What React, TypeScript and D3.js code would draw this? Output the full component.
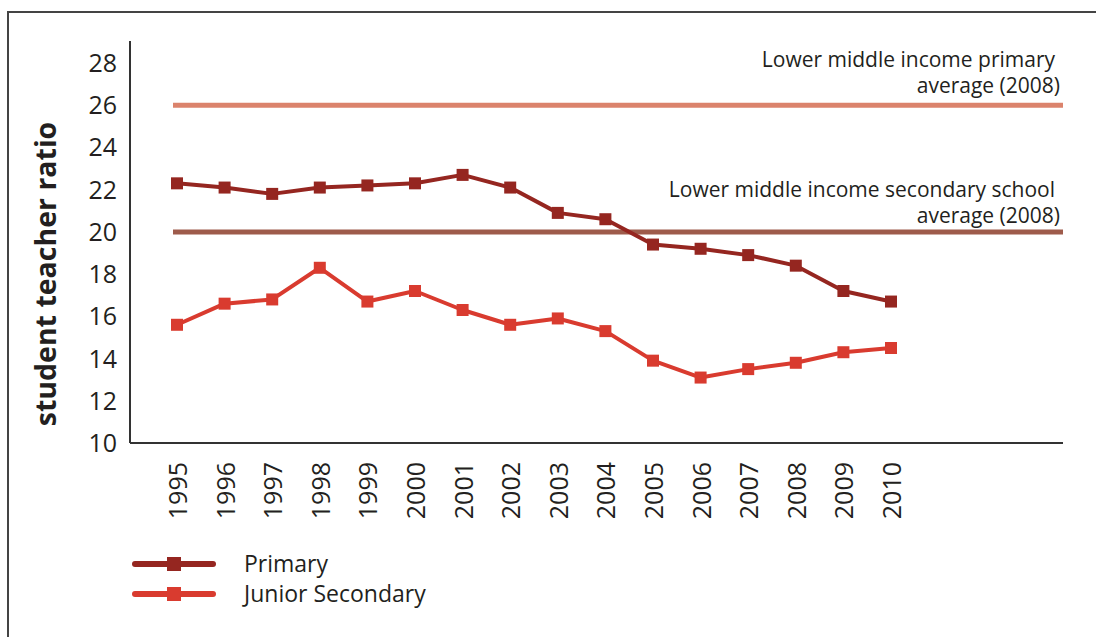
import React from 'react';
import * as d3 from 'd3';

const years = [1995, 1996, 1997, 1998, 1999, 2000, 2001, 2002, 2003, 2004, 2005, 2006, 2007, 2008, 2009, 2010];
const primary = [22.3, 22.1, 21.8, 22.1, 22.2, 22.3, 22.7, 22.1, 20.9, 20.6, 19.4, 19.2, 18.9, 18.4, 17.2, 16.7];
const juniorSecondary = [15.6, 16.6, 16.8, 18.3, 16.7, 17.2, 16.3, 15.6, 15.9, 15.3, 13.9, 13.1, 13.5, 13.8, 14.3, 14.5];
const yTicks = [10, 12, 14, 16, 18, 20, 22, 24, 26, 28];

const primaryAverage = 26;
const secondaryAverage = 20;

const W = 1096;
const H = 637;
const FONT = "'Open Sans', 'DejaVu Sans', sans-serif";

const PRIMARY_COLOR = '#952620';
const JUNIOR_COLOR = '#d93b2f';
const PRIMARY_AVG_COLOR = '#db836c';
const SECONDARY_AVG_COLOR = '#9e5b4b';
const TEXT_COLOR = '#231f20';

const App: React.FC = () => {
  // plot area
  const left = 130;
  const right = 1063;
  const top = 41;
  const bottom = 443;

  const x = d3.scaleLinear().domain([1995, 2010]).range([177, 891]);
  const y = d3.scaleLinear().domain([10, 28]).range([bottom, 63]);

  const line = d3.line<number>()
    .x((_, i) => x(years[i]))
    .y(d => y(d));

  const series = [
    { name: 'Primary', values: primary, color: PRIMARY_COLOR },
    { name: 'Junior Secondary', values: juniorSecondary, color: JUNIOR_COLOR },
  ];

  const avgStart = x(1995) - 4;

  return (
    <svg width={W} height={H} style={{ position: 'absolute', left: 0, top: 0, background: '#fff' }} fontFamily={FONT}>
      {/* frame */}
      <rect x={8} y={12} width={W + 20} height={H + 20} fill="none" stroke="#444" strokeWidth={2} />

      {/* axes */}
      <line x1={left} x2={left} y1={top} y2={bottom} stroke="#333" strokeWidth={2} />
      <line x1={left} x2={right} y1={bottom} y2={bottom} stroke="#333" strokeWidth={2} />

      {yTicks.map(t => (
        <text key={t} x={117} y={y(t)} dy="0.36em" textAnchor="end" fontSize={25} fill={TEXT_COLOR}>{t}</text>
      ))}

      {years.map(yr => (
        <text key={yr} transform={`translate(${x(yr) + 1}, 462) rotate(-90)`} dy="0.36em" textAnchor="end" fontSize={25} fill={TEXT_COLOR}>{yr}</text>
      ))}

      <text transform={`translate(56, 274) rotate(-90)`} textAnchor="middle" fontSize={28.5} fontWeight="bold" fill={TEXT_COLOR}>student teacher ratio</text>

      {/* average reference lines */}
      <line x1={avgStart} x2={right} y1={y(primaryAverage)} y2={y(primaryAverage)} stroke={PRIMARY_AVG_COLOR} strokeWidth={5} />
      <line x1={avgStart} x2={right} y1={y(secondaryAverage)} y2={y(secondaryAverage)} stroke={SECONDARY_AVG_COLOR} strokeWidth={5} />

      <text x={1055} y={67} textAnchor="end" fontSize={21} fill={TEXT_COLOR}>Lower middle income primary</text>
      <text x={1060} y={93} textAnchor="end" fontSize={21} fill={TEXT_COLOR}>average (2008)</text>
      <text x={1055} y={197} textAnchor="end" fontSize={21} fill={TEXT_COLOR}>Lower middle income secondary school</text>
      <text x={1060} y={223} textAnchor="end" fontSize={21} fill={TEXT_COLOR}>average (2008)</text>

      {/* series */}
      {series.map(s => (
        <g key={s.name}>
          <path d={line(s.values) || ''} fill="none" stroke={s.color} strokeWidth={4} strokeLinejoin="round" />
          {s.values.map((v, i) => (
            <rect key={i} x={x(years[i]) - 6} y={y(v) - 6} width={12} height={12} fill={s.color} />
          ))}
        </g>
      ))}

      {/* legend */}
      {series.map((s, i) => {
        const ly = 564 + i * 30;
        return (
          <g key={s.name}>
            <line x1={135} x2={213} y1={ly} y2={ly} stroke={s.color} strokeWidth={6} strokeLinecap="round" />
            <rect x={167} y={ly - 7} width={14} height={14} fill={s.color} />
            <text x={244} y={ly} dy="0.36em" fontSize={23} fill={TEXT_COLOR}>{s.name}</text>
          </g>
        );
      })}
    </svg>
  );
};

export default App;
